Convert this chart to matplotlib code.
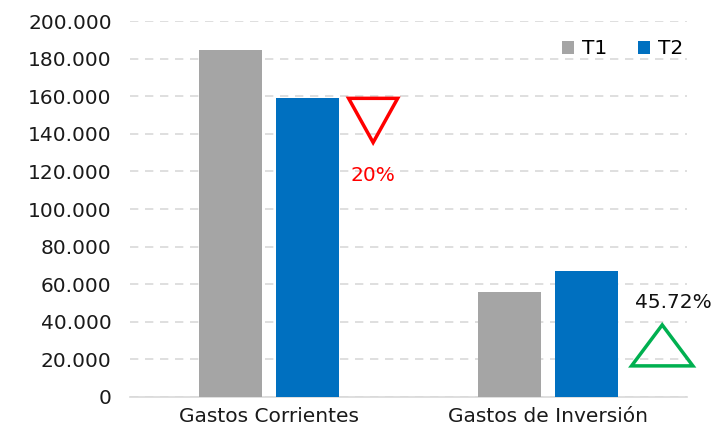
import matplotlib
matplotlib.use('Agg')
import matplotlib.pyplot as plt
import numpy as np
from matplotlib.patches import Polygon
from matplotlib.ticker import FuncFormatter, MultipleLocator

categories = ['Gastos Corrientes', 'Gastos de Inversión']
series_names = ['T1', 'T2']
t1_values = [184400, 55700]
t2_values = [158900, 67200]
changes = ['20%', '45.72%']

plt.rcParams['font.family'] = ['DejaVu Sans']
fs = 14.5

fig = plt.figure(figsize=(7.25, 4.4), dpi=100)
ax = fig.add_axes([0.179, 0.098, 0.769, 0.854])

x = np.arange(len(categories))
w = 0.226
off = 0.137
ax.bar(x - off, t1_values, w, color='#A5A5A5', label=series_names[0], zorder=3)
ax.bar(x + off, t2_values, w, color='#0070C0', label=series_names[1], zorder=3)

ax.set_xlim(-0.5, 1.5)
ax.set_ylim(0, 200000)
ax.yaxis.set_major_locator(MultipleLocator(20000))
ax.yaxis.set_major_formatter(FuncFormatter(lambda v, p: f'{v:,.0f}'.replace(',', '.')))
ax.grid(axis='y', color='#d9d9d9', linestyle=(0, (5, 4)), linewidth=1.2, zorder=0)
ax.set_xticks(x)
ax.set_xticklabels(categories)
ax.tick_params(axis='both', length=0, labelsize=fs, colors='#1a1a1a')
ax.tick_params(axis='y', pad=13)
ax.tick_params(axis='x', pad=7)
for s in ['left', 'right', 'top']:
    ax.spines[s].set_visible(False)
ax.spines['bottom'].set_color('#d9d9d9')
ax.spines['bottom'].set_linewidth(1.2)

# down triangle (decrease) next to first group
cx, top = 0.373, t2_values[0]
tri = Polygon([[cx - 0.088, top], [cx + 0.088, top], [cx, top - 23500]], closed=True,
              fill=False, edgecolor='#FF0000', linewidth=2.5, zorder=4)
ax.add_patch(tri)
ax.text(cx, 118000, changes[0], color='#FF0000', fontsize=fs, ha='center', va='center')

# up triangle (increase) next to second group
cx2, base = 1.41, 16500
tri2 = Polygon([[cx2 - 0.11, base], [cx2 + 0.11, base], [cx2, base + 21800]], closed=True,
               fill=False, edgecolor='#00B050', linewidth=2.5, zorder=4, clip_on=False)
ax.add_patch(tri2)
ax.text(1.45, 50000, changes[1], color='#111111', fontsize=fs, ha='center', va='center')

ax.legend(loc='upper right', bbox_to_anchor=(1.025, 1.0), frameon=False, ncol=2,
          fontsize=fs, handlelength=0.6, handleheight=0.6, handletextpad=0.4,
          columnspacing=1.5)

fig.savefig('out.png', dpi=100)
